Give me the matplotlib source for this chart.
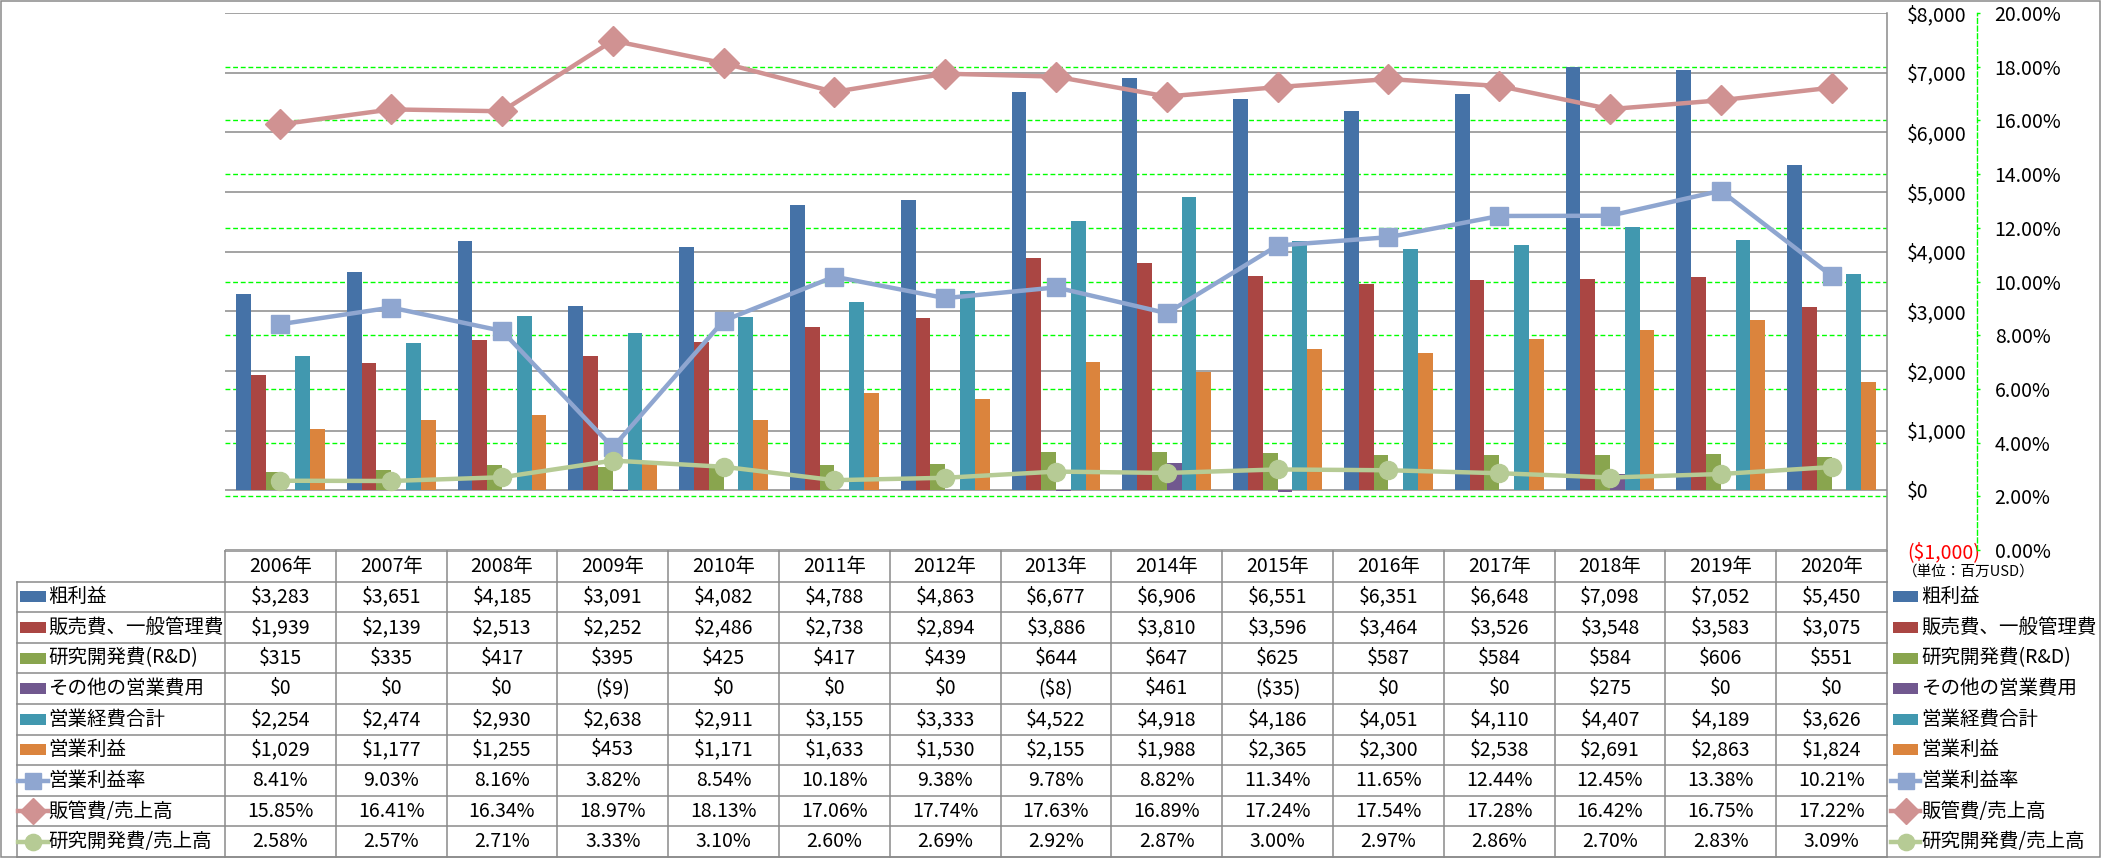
import numpy as np
import matplotlib
matplotlib.use('Agg')
import matplotlib.pyplot as plt
from matplotlib.patches import Rectangle
from matplotlib.lines import Line2D

plt.rcParams['font.family'] = ['Noto Sans CJK JP', 'DejaVu Sans']

years = [2006, 2007, 2008, 2009, 2010, 2011, 2012, 2013, 2014, 2015, 2016, 2017, 2018, 2019, 2020]
gross = [3283, 3651, 4185, 3091, 4082, 4788, 4863, 6677, 6906, 6551, 6351, 6648, 7098, 7052, 5450]
sga = [1939, 2139, 2513, 2252, 2486, 2738, 2894, 3886, 3810, 3596, 3464, 3526, 3548, 3583, 3075]
rnd = [315, 335, 417, 395, 425, 417, 439, 644, 647, 625, 587, 584, 584, 606, 551]
other = [0, 0, 0, -9, 0, 0, 0, -8, 461, -35, 0, 0, 275, 0, 0]
opex = [2254, 2474, 2930, 2638, 2911, 3155, 3333, 4522, 4918, 4186, 4051, 4110, 4407, 4189, 3626]
opinc = [1029, 1177, 1255, 453, 1171, 1633, 1530, 2155, 1988, 2365, 2300, 2538, 2691, 2863, 1824]
op_margin = [8.41, 9.03, 8.16, 3.82, 8.54, 10.18, 9.38, 9.78, 8.82, 11.34, 11.65, 12.44, 12.45, 13.38, 10.21]
sga_ratio = [15.85, 16.41, 16.34, 18.97, 18.13, 17.06, 17.74, 17.63, 16.89, 17.24, 17.54, 17.28, 16.42, 16.75, 17.22]
rnd_ratio = [2.58, 2.57, 2.71, 3.33, 3.10, 2.60, 2.69, 2.92, 2.87, 3.00, 2.97, 2.86, 2.70, 2.83, 3.09]

bar_names = ['粗利益', '販売費、一般管理費', '研究開発費(R&D)', 'その他の営業費用', '営業経費合計', '営業利益']
bar_data = [gross, sga, rnd, other, opex, opinc]
bar_colors = ['#4572A7', '#AA4643', '#89A54E', '#71588F', '#4198AF', '#DB843D']

line_names = ['営業利益率', '販管費/売上高', '研究開発費/売上高']
line_data = [op_margin, sga_ratio, rnd_ratio]
line_colors = ['#8FA6D0', '#D09292', '#B6CB95']
line_markers = ['s', 'D', 'o']
line_ms = [12.5, 15, 13]

money_lim = (-1000, 8000)
pct_lim = (0, 20)


def money(v):
    s = '$' + format(abs(int(v)), ',')
    return '(' + s + ')' if v < 0 else s


W, H = 2101, 858
PL, PR, PT, PB = 225, 1887, 13, 550
GRAY = '#8A8A8A'
GREEN = '#00FF00'
FS = 14

fig = plt.figure(figsize=(W / 100, H / 100), dpi=100)
ax = fig.add_axes([PL / W, 1 - PB / H, (PR - PL) / W, (PB - PT) / H])
ax2 = ax.twinx()

n = len(years)
x = np.arange(n)
bw = 0.1336
for i, (vals, c) in enumerate(zip(bar_data, bar_colors)):
    ax.bar(x + (i - 2.5) * bw, vals, bw, color=c, zorder=2, linewidth=0)

money_ticks = np.arange(money_lim[0], money_lim[1] + 1, 1000)
pct_ticks = np.arange(pct_lim[0], pct_lim[1] + 0.1, 2)
# percent gridlines sit on the primary axes (as minor ticks) so they stay behind the bars
scale = (money_lim[1] - money_lim[0]) / (pct_lim[1] - pct_lim[0])
ax.set_yticks(money_lim[0] + (pct_ticks - pct_lim[0]) * scale, minor=True)

ax.set_xlim(-0.5, n - 0.5)
ax.set_ylim(*money_lim)
ax.set_xticks([])
ax.yaxis.tick_right()
ax.set_yticks(money_ticks, [money(t) for t in money_ticks])
ax.get_yticklabels()[0].set_color('red')
ax.tick_params(axis='y', which='major', length=0, pad=14.4, labelsize=FS)
ax.tick_params(axis='y', which='minor', length=0)
ax.grid(axis='y', which='minor', color=GREEN, lw=1.0, linestyle=(0, (3.5, 2)), zorder=0)
ax.grid(axis='y', which='major', color=GRAY, lw=1.1, zorder=0)
ax.set_axisbelow(True)
for s in ['left', 'top', 'bottom']:
    ax.spines[s].set_visible(False)
ax.spines['right'].set_color(GRAY)
ax.spines['right'].set_linewidth(1.1)

for vals, c, m, ms in zip(line_data, line_colors, line_markers, line_ms):
    ax2.plot(x, vals, color=c, lw=3.2, marker=m, ms=ms, mfc=c, mec=c, zorder=3)
ax2.set_ylim(*pct_lim)
ax2.set_yticks(pct_ticks, ['%.2f%%' % p for p in pct_ticks])
for s in ['left', 'top', 'bottom']:
    ax2.spines[s].set_visible(False)
ax2.spines['right'].set_position(('outward', 64.8))
ax2.spines['right'].set_color(GREEN)
ax2.spines['right'].set_linestyle((0, (3.5, 2)))
ax2.spines['right'].set_linewidth(1.0)
ax2.tick_params(axis='y', length=2.2, width=1, color=GREEN, pad=10.5, labelsize=FS)

# data table and legend, in pixel coordinates
tab = fig.add_axes([0, 0, 1, 1])
tab.set_xlim(0, W)
tab.set_ylim(H, 0)
tab.axis('off')

T0 = 551
rh = 30.6
colw = (PR - PL) / n
LX = 17
nrows = len(bar_names) + len(line_names)

tab.plot([PL, PR], [T0, T0], color=GRAY, lw=1.1)
for k in range(1, nrows + 2):
    yy = T0 + k * rh
    tab.plot([LX, PR], [yy, yy], color=GRAY, lw=1.1)
tab.plot([LX, LX], [T0 + rh, T0 + (nrows + 1) * rh], color=GRAY, lw=1.1)
for i in range(n + 1):
    xx = PL + i * colw
    tab.plot([xx, xx], [T0, T0 + (nrows + 1) * rh], color=GRAY, lw=1.1)

for i, yr in enumerate(years):
    tab.text(PL + (i + 0.5) * colw, T0 + 0.5 * rh, f'{yr}年', ha='center', va='center', fontsize=FS)

row_values = [[money(v) for v in vals] for vals in bar_data] + \
             [['%.2f%%' % v for v in vals] for vals in line_data]
row_names = bar_names + line_names


def symbol(x0, x1, yc, k):
    if k < len(bar_names):
        tab.add_patch(Rectangle((x0, yc - 5.5), x1 - x0, 11, color=bar_colors[k], lw=0))
    else:
        j = k - len(bar_names)
        tab.add_line(Line2D([x0 - 2, x1 + 2], [yc, yc], color=line_colors[j], lw=3.2))
        tab.add_line(Line2D([(x0 + x1) / 2], [yc], marker=line_markers[j], ms=line_ms[j] * 0.9,
                            color=line_colors[j], mec=line_colors[j]))


for k, (name, vals) in enumerate(zip(row_names, row_values)):
    yc = T0 + (k + 1.5) * rh
    symbol(20, 46, yc, k)
    tab.text(48, yc, name, ha='left', va='center', fontsize=FS)
    for i, s in enumerate(vals):
        tab.text(PL + (i + 0.5) * colw, yc, s, ha='center', va='center', fontsize=FS)
    # legend on the right
    symbol(1893, 1918, yc, k)
    tab.text(1921, yc, name, ha='left', va='center', fontsize=FS)

tab.text(1903, 572, '（単位：百万USD）', ha='left', va='center', fontsize=10.5)

tab.add_patch(Rectangle((0.5, 0.5), W - 1.5, H - 1.5, fill=False, edgecolor=GRAY, lw=1.1))

fig.savefig('out.png', dpi=100)
